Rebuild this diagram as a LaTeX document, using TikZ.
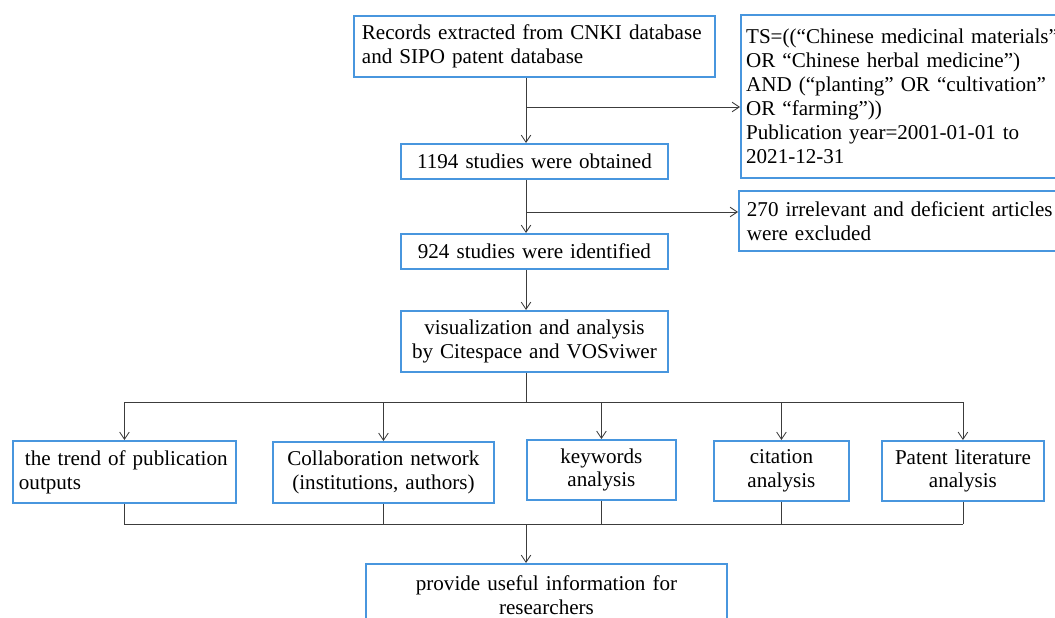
\documentclass[tikz,border=0pt]{standalone}
\usepackage{fontspec}
\setmainfont{Liberation Serif}
\usetikzlibrary{arrows.meta}
\definecolor{boxblue}{RGB}{72,150,222}
\definecolor{linegray}{RGB}{60,60,60}
\begin{document}
\begin{tikzpicture}[x=0.025cm,y=-0.025cm,
    box/.style={draw=boxblue,line width=1.3pt,rectangle,anchor=north west,inner xsep=0.2cm,inner ysep=0pt,
      font=\fontsize{15}{17}\selectfont},
    link/.style={draw=linegray,line width=0.6pt},
    >={Straight Barb[length=1.8mm,width=2.4mm]}]
  \useasboundingbox (0,0) rectangle (1055,618);
  \clip (0,0) rectangle (1055,618);
  \path
    (353,15)  node[box,text width=8.625cm,minimum height=1.525cm,align=left] (rec)
      {Records extracted from CNKI database\\and SIPO patent database}
    (400,143) node[box,text width=6.275cm,minimum height=0.875cm,align=center] (obt)
      {1194 studies were obtained}
    (740,14)  node[box,inner xsep=0.13cm,text width=9cm,minimum height=4.075cm,align=left] (ts)
      {TS=((“Chinese medicinal materials”\\OR “Chinese herbal medicine”)\\AND (“planting” OR “cultivation”\\OR “farming”))\\Publication year=2001-01-01 to\\2021-12-31}
    (738,190) node[box,text width=9cm,minimum height=1.5cm,align=left] (exc)
      {270 irrelevant and deficient articles\\were excluded}
    (400,233) node[box,text width=6.275cm,minimum height=0.875cm,align=center] (idf)
      {924 studies were identified}
    (400,310) node[box,text width=6.275cm,minimum height=1.525cm,align=center] (vis)
      {visualization and analysis\\by Citespace and VOSviwer}
    (12,440)  node[box,inner xsep=0.15cm,text width=5.275cm,minimum height=1.55cm,align=left] (trend)
      {\hspace{0.15cm}the trend of publication\\outputs}
    (272,441) node[box,text width=5.125cm,minimum height=1.525cm,align=center] (collab)
      {Collaboration network\\(institutions, authors)}
    (526,439) node[box,text width=3.325cm,minimum height=1.5cm,align=center] (kw)
      {keywords\\analysis}
    (713,440) node[box,text width=2.975cm,minimum height=1.5cm,align=center] (cit)
      {citation\\analysis}
    (881,440) node[box,text width=3.65cm,minimum height=1.5cm,align=center] (pat)
      {Patent literature\\analysis}
    (365,563) node[box,text width=8.625cm,minimum height=1.55cm,align=center] (fin)
      {provide useful information for\\researchers};
  \coordinate (sp) at (526,0);
  \coordinate (br1) at (526,107);
  \coordinate (br2) at (526,212);
  \coordinate (bus1) at (526,402);
  \coordinate (bus2) at (526,524);
  \draw[link,->] (rec.south -| sp) -- (obt.north -| sp);
  \draw[link,->] (obt.south -| sp) -- (idf.north -| sp);
  \draw[link,->] (idf.south -| sp) -- (vis.north -| sp);
  \draw[link,->] (br1) -- (ts.west |- br1);
  \draw[link,->] (br2) -- (exc.west |- br2);
  \draw[link] (vis.south -| sp) -- (bus1);
  \draw[link] (trend.north |- bus1) -- (pat.north |- bus1);
  \foreach \n in {trend,collab,kw,cit,pat} {
    \draw[link,->] (\n.north |- bus1) -- (\n.north);
    \draw[link] (\n.south) -- (\n.south |- bus2);
  }
  \draw[link] (trend.south |- bus2) -- (pat.south |- bus2);
  \draw[link,->] (bus2) -- (fin.north -| sp);
\end{tikzpicture}
\end{document}
